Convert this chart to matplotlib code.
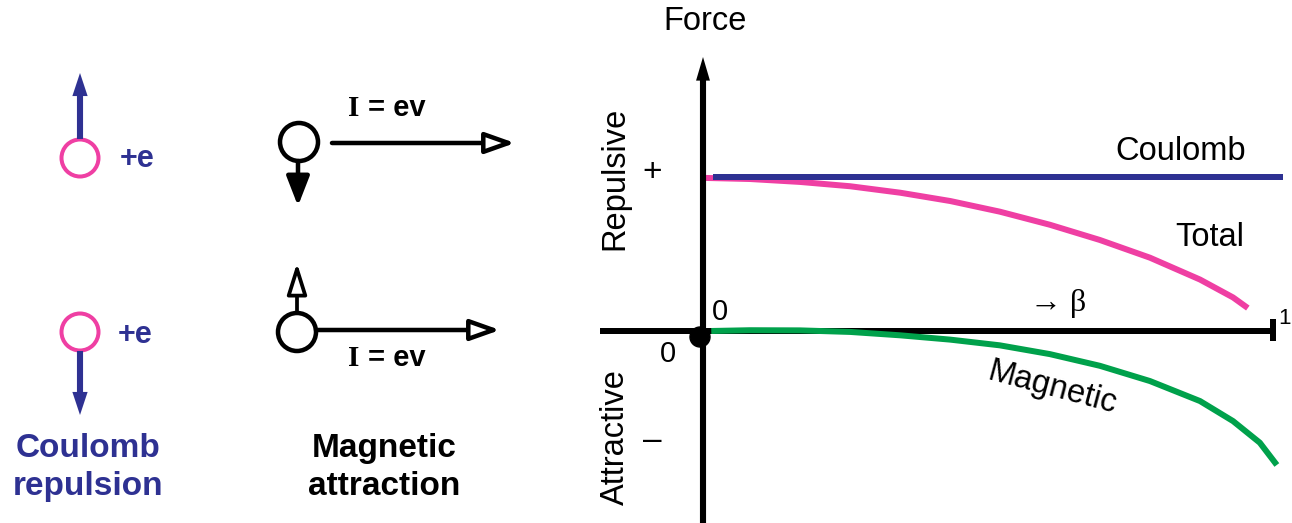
import matplotlib
matplotlib.use("Agg")
import matplotlib.pyplot as plt
from matplotlib.patches import Circle
from matplotlib.transforms import Affine2D

plt.rcParams['font.family'] = ['Liberation Sans', 'DejaVu Sans']

# force vs beta (Coulomb force = 1)
coulomb_beta = [0.014, 1.016]
coulomb_force = [1.0, 1.0]

total_beta = [0.0, 0.079, 0.167, 0.255, 0.343, 0.431, 0.518, 0.606, 0.694, 0.782, 0.870, 0.928, 0.954]
total_force = [0.994, 0.987, 0.968, 0.940, 0.898, 0.844, 0.775, 0.690, 0.591, 0.476, 0.334, 0.218, 0.149]

magnetic_beta = [0.011, 0.079, 0.167, 0.255, 0.343, 0.431, 0.518, 0.606, 0.694, 0.782, 0.870, 0.928, 0.975, 1.005]
magnetic_force = [0.0, 0.005, 0.004, -0.006, -0.028, -0.056, -0.093, -0.150, -0.226, -0.325, -0.455, -0.585, -0.725, -0.870]

BLUE = '#2e3192'
PINK = '#ef3fa3'
GREEN = '#00a14b'
PX = 0.72  # points per pixel at dpi 100

fig = plt.figure(figsize=(12.92, 5.23), dpi=100)
ax = fig.add_axes([0, 0, 1, 1])
ax.set_xlim(0, 1292)
ax.set_ylim(523, 0)
ax.axis('off')


def arrow(x0, y0, x1, y1, color, style):
    ax.annotate('', xy=(x1, y1), xytext=(x0, y0),
                arrowprops=dict(arrowstyle=style, color=color, lw=0,
                                mutation_scale=20, shrinkA=0, shrinkB=0))


def open_arrow(x0, y0, x1, y1, hl, hw, lw=6, fc='white'):
    ax.annotate('', xy=(x1, y1), xytext=(x0, y0),
                arrowprops=dict(arrowstyle='-|>,head_length=%s,head_width=%s' % (hl, hw),
                                ec='black', fc=fc, lw=lw * PX * 0.75,
                                mutation_scale=20, shrinkA=0, shrinkB=0))


# ---- left: Coulomb repulsion
simple = 'simple,head_length=0.83,head_width=0.55,tail_width=0.22'
ax.add_patch(Circle((80, 158), 18.5, fill=False, ec=PINK, lw=4 * PX))
ax.add_patch(Circle((80, 332), 18.5, fill=False, ec=PINK, lw=4 * PX))
arrow(80, 139, 80, 73, BLUE, simple)
arrow(80, 351, 80, 415, BLUE, simple)
ax.text(120, 159, '+e', color=BLUE, fontsize=22, fontweight='bold', va='center', ha='left')
ax.text(118, 335, '+e', color=BLUE, fontsize=22, fontweight='bold', va='center', ha='left')
ax.text(88, 457, 'Coulomb', color=BLUE, fontsize=24, fontweight='bold', ha='center', va='baseline')
ax.text(88, 495, 'repulsion', color=BLUE, fontsize=24, fontweight='bold', ha='center', va='baseline')

# ---- middle: magnetic attraction
ax.add_patch(Circle((299, 142), 19, fill=False, ec='black', lw=4.5 * PX))
ax.add_patch(Circle((297, 332), 19, fill=False, ec='black', lw=4.5 * PX))
open_arrow(332, 143, 515, 143, 0.9, 0.32)
open_arrow(316, 330, 500, 330, 0.9, 0.32)
open_arrow(298, 161, 298, 206, 0.9, 0.35, fc='black')
open_arrow(297, 313, 297, 263, 0.95, 0.3, lw=5)
for y in (108, 358):
    ax.text(348, y, 'I', fontsize=21, fontweight='bold', family=['Liberation Serif', 'DejaVu Serif'],
            ha='left', va='center')
    ax.text(368, y, '= ev', fontsize=21, fontweight='bold', ha='left', va='center')
ax.text(384, 457, 'Magnetic', fontsize=24, fontweight='bold', ha='center', va='baseline')
ax.text(384, 495, 'attraction', fontsize=24, fontweight='bold', ha='center', va='baseline')

# ---- right: force vs beta
ax.plot([600, 1273], [331, 331], color='black', lw=6 * PX, solid_capstyle='butt')
ax.plot([1273, 1273], [319, 341], color='black', lw=6 * PX, solid_capstyle='butt')
ax.annotate('', xy=(703, 57), xytext=(703, 530),
            arrowprops=dict(arrowstyle='simple,head_length=0.85,head_width=0.5,tail_width=0.22',
                            color='black', lw=0, mutation_scale=20, shrinkA=0, shrinkB=0))
ax.add_patch(Circle((700, 337), 10, color='black'))

curve = Affine2D().scale(569, -154).translate(705, 331) + ax.transData
line_kw = dict(lw=6 * PX, transform=curve, solid_capstyle='butt', solid_joinstyle='round')
ax.plot(total_beta, total_force, color=PINK, **line_kw)
ax.plot(coulomb_beta, coulomb_force, color=BLUE, **line_kw)
ax.plot(magnetic_beta, magnetic_force, color=GREEN, **line_kw)

ax.text(705, 22, 'Force', fontsize=23.5, ha='center', va='center')
ax.text(615, 178, 'Repulsive', fontsize=23.5, rotation=90, ha='center', va='center')
ax.text(615, 437, 'Attractive', fontsize=23.5, rotation=90, ha='center', va='center')
ax.text(652, 172, '+', fontsize=24, ha='center', va='center')
ax.text(652, 441, '\u2013', fontsize=24, ha='center', va='center')
ax.text(720, 312, '0', fontsize=21, ha='center', va='center')
ax.text(668, 354, '0', fontsize=21, ha='center', va='center')
ax.text(1181, 151, 'Coulomb', fontsize=23.5, ha='center', va='center')
ax.text(1210, 237, 'Total', fontsize=23.5, ha='center', va='center')
ax.text(1058, 304, '\u2192 \u03b2', fontsize=23, ha='center', va='center',
        family=['Liberation Serif', 'DejaVu Serif'])
ax.text(1052, 388, 'Magnetic', fontsize=23.5, rotation=-15, rotation_mode='anchor',
        ha='center', va='center')
ax.text(1291, 318, '1', fontsize=16, ha='right', va='center')

fig.savefig('out.png', dpi=100)
